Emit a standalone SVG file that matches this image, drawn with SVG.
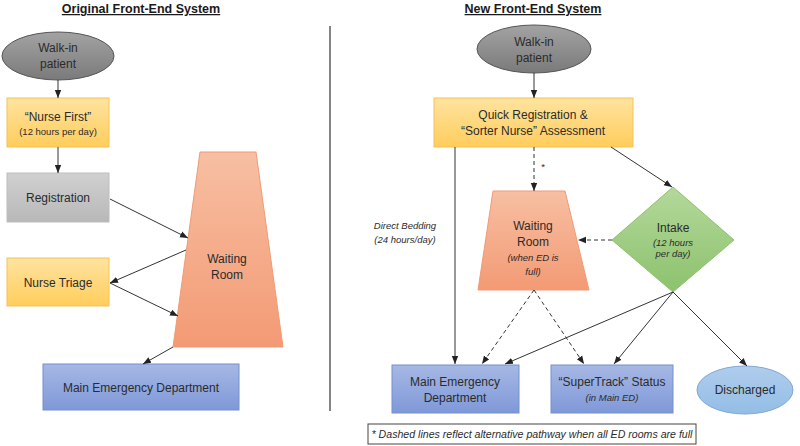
<svg xmlns="http://www.w3.org/2000/svg" width="800" height="446" viewBox="0 0 800 446">
<defs>
<linearGradient id="gGray" x1="0" y1="0" x2="0" y2="1"><stop offset="0" stop-color="#a3a3a3"/><stop offset="1" stop-color="#7a7a7a"/></linearGradient>
<linearGradient id="gYel" x1="0" y1="0" x2="0" y2="1"><stop offset="0" stop-color="#ffe3a0"/><stop offset="1" stop-color="#ffcd5c"/></linearGradient>
<linearGradient id="gReg" x1="0" y1="0" x2="0" y2="1"><stop offset="0" stop-color="#d0d0d0"/><stop offset="1" stop-color="#b8b8b8"/></linearGradient>
<linearGradient id="gOr" x1="0" y1="0" x2="0" y2="1"><stop offset="0" stop-color="#f7bfa2"/><stop offset="1" stop-color="#f39a74"/></linearGradient>
<linearGradient id="gBlue" x1="0" y1="0" x2="0" y2="1"><stop offset="0" stop-color="#a6b8e4"/><stop offset="1" stop-color="#7f98d8"/></linearGradient>
<linearGradient id="gGreen" x1="0" y1="0" x2="0" y2="1"><stop offset="0" stop-color="#b4d89b"/><stop offset="1" stop-color="#8cc26d"/></linearGradient>
<linearGradient id="gLb" x1="0" y1="0" x2="0" y2="1"><stop offset="0" stop-color="#b0cdec"/><stop offset="1" stop-color="#93bde6"/></linearGradient>
<marker id="arr" markerUnits="userSpaceOnUse" markerWidth="8" markerHeight="8" viewBox="0 0 8 8" refX="8" refY="4" orient="auto">
<path d="M0,0.8 L8,4 L0,7.2 z" fill="#222"/>
</marker>
</defs>
<style>
text{font-family:"Liberation Sans",Arial,sans-serif;fill:#2b2b2b;text-anchor:middle}
.t{font-size:12px}
.s{font-size:9.5px}
.f{font-size:10.6px}
.i{font-style:italic}
.h{font-size:12.5px;font-weight:bold;text-decoration:underline;fill:#1a1a1a}
.ln{stroke:#333;stroke-width:1;fill:none}
.d{stroke-dasharray:4,3}
</style>
<text class="h" x="141" y="13">Original  Front-End  System</text>
<text class="h" x="533" y="13">New Front-End  System</text>
<line x1="330" y1="26" x2="330" y2="411" stroke="#333" stroke-width="1.2"/>

<g id="l-walkin"><ellipse cx="58" cy="56" rx="56" ry="24" fill="url(#gGray)" stroke="#555" stroke-width="1"/><text class="t" x="58" y="52">Walk-in</text><text class="t" x="58" y="68">patient</text></g>
<g id="l-nursefirst"><rect x="7" y="98" width="102" height="49" fill="url(#gYel)" stroke="#f3c25a"/><text class="t" x="58" y="121">“Nurse First”</text><text class="s" x="58" y="135">(12 hours per day)</text></g>
<g id="l-registration"><rect x="7" y="173" width="102" height="49" fill="url(#gReg)" stroke="#bdbdbd"/><text class="t" x="58" y="202">Registration</text></g>
<g id="l-triage"><rect x="7" y="258" width="102" height="48" fill="url(#gYel)" stroke="#f3c25a"/><text class="t" x="58" y="287">Nurse Triage</text></g>
<g id="l-waiting"><polygon points="200,152 256,152 283,347 173,347" fill="url(#gOr)" stroke="#ef9a76"/><text class="t" x="227" y="263">Waiting</text><text class="t" x="227" y="279">Room</text></g>
<g id="l-ed"><rect x="43" y="364" width="196" height="46" fill="url(#gBlue)" stroke="#7490cf"/><text class="t" x="141" y="392">Main Emergency Department</text></g>

<g id="r-walkin"><ellipse cx="534" cy="49" rx="57" ry="24" fill="url(#gGray)" stroke="#555"/><text class="t" x="534" y="46">Walk-in</text><text class="t" x="534" y="62">patient</text></g>
<g id="r-quick"><rect x="434" y="98" width="199" height="49" fill="url(#gYel)" stroke="#f3c25a"/><text class="t" x="533" y="119">Quick Registration &amp;</text><text class="t" x="533" y="135">“Sorter Nurse” Assessment</text></g>
<g id="r-waiting"><polygon points="493,191 565,191 589,290 478,290" fill="url(#gOr)" stroke="#ef9a76"/><text class="t" x="533" y="230">Waiting</text><text class="t" x="533" y="246">Room</text><text class="s i" x="533" y="261">(when ED is</text><text class="s i" x="533" y="275">full)</text></g>
<g id="r-intake"><polygon points="673,187 734,240 673,292 612,240" fill="url(#gGreen)" stroke="#8cc26d"/><text class="t" x="673" y="232">Intake</text><text class="s i" x="673" y="246">(12 hours</text><text class="s i" x="673" y="257">per day)</text></g>
<g id="r-ed"><rect x="392" y="365" width="127" height="48" fill="url(#gBlue)" stroke="#7490cf"/><text class="t" x="455" y="386">Main Emergency</text><text class="t" x="455" y="402">Department</text></g>
<g id="r-super"><rect x="551" y="365" width="122" height="48" fill="url(#gBlue)" stroke="#7490cf"/><text class="t" x="612" y="386">“SuperTrack” Status</text><text class="s i" x="612" y="401">(in Main ED)</text></g>
<g id="r-discharged"><ellipse cx="745" cy="390" rx="48" ry="24" fill="url(#gLb)" stroke="#7fa8d6"/><text class="t" x="745" y="394">Discharged</text></g>
<g id="r-label"><text class="s i" x="405" y="229">Direct Bedding</text><text class="s i" x="405" y="243">(24 hours/day)</text><text class="s" x="543" y="170">*</text></g>
<g id="r-note"><rect x="368" y="424" width="328" height="20" fill="#fff" stroke="#444"/><text class="f i" x="532" y="438">* Dashed lines reflect alternative pathway  when all ED rooms are full</text></g>

<g id="connectors">
<line class="ln" x1="58" y1="80" x2="58" y2="98" marker-end="url(#arr)"/>
<line class="ln" x1="58" y1="147" x2="58" y2="173" marker-end="url(#arr)"/>
<line class="ln" x1="110" y1="199" x2="188" y2="238" marker-end="url(#arr)"/>
<line class="ln" x1="186" y1="250" x2="110" y2="283" marker-end="url(#arr)"/>
<line class="ln" x1="110" y1="283" x2="178" y2="316" marker-end="url(#arr)"/>
<line class="ln" x1="173" y1="347" x2="143" y2="364" marker-end="url(#arr)"/>

<line class="ln" x1="534" y1="73" x2="534" y2="98" marker-end="url(#arr)"/>
<line class="ln d" x1="534" y1="147" x2="534" y2="191" marker-end="url(#arr)"/>
<line class="ln" x1="611" y1="147" x2="672" y2="187" marker-end="url(#arr)"/>
<line class="ln" x1="455" y1="147" x2="455" y2="364" marker-end="url(#arr)"/>
<line class="ln d" x1="612" y1="240" x2="578" y2="240" marker-end="url(#arr)"/>
<line class="ln d" x1="534" y1="290" x2="482" y2="364" marker-end="url(#arr)"/>
<line class="ln d" x1="534" y1="290" x2="584" y2="364" marker-end="url(#arr)"/>
<line class="ln" x1="673" y1="292" x2="505" y2="364" marker-end="url(#arr)"/>
<line class="ln" x1="673" y1="292" x2="614" y2="364" marker-end="url(#arr)"/>
<line class="ln" x1="673" y1="292" x2="747" y2="366" marker-end="url(#arr)"/>
</g>
</svg>
